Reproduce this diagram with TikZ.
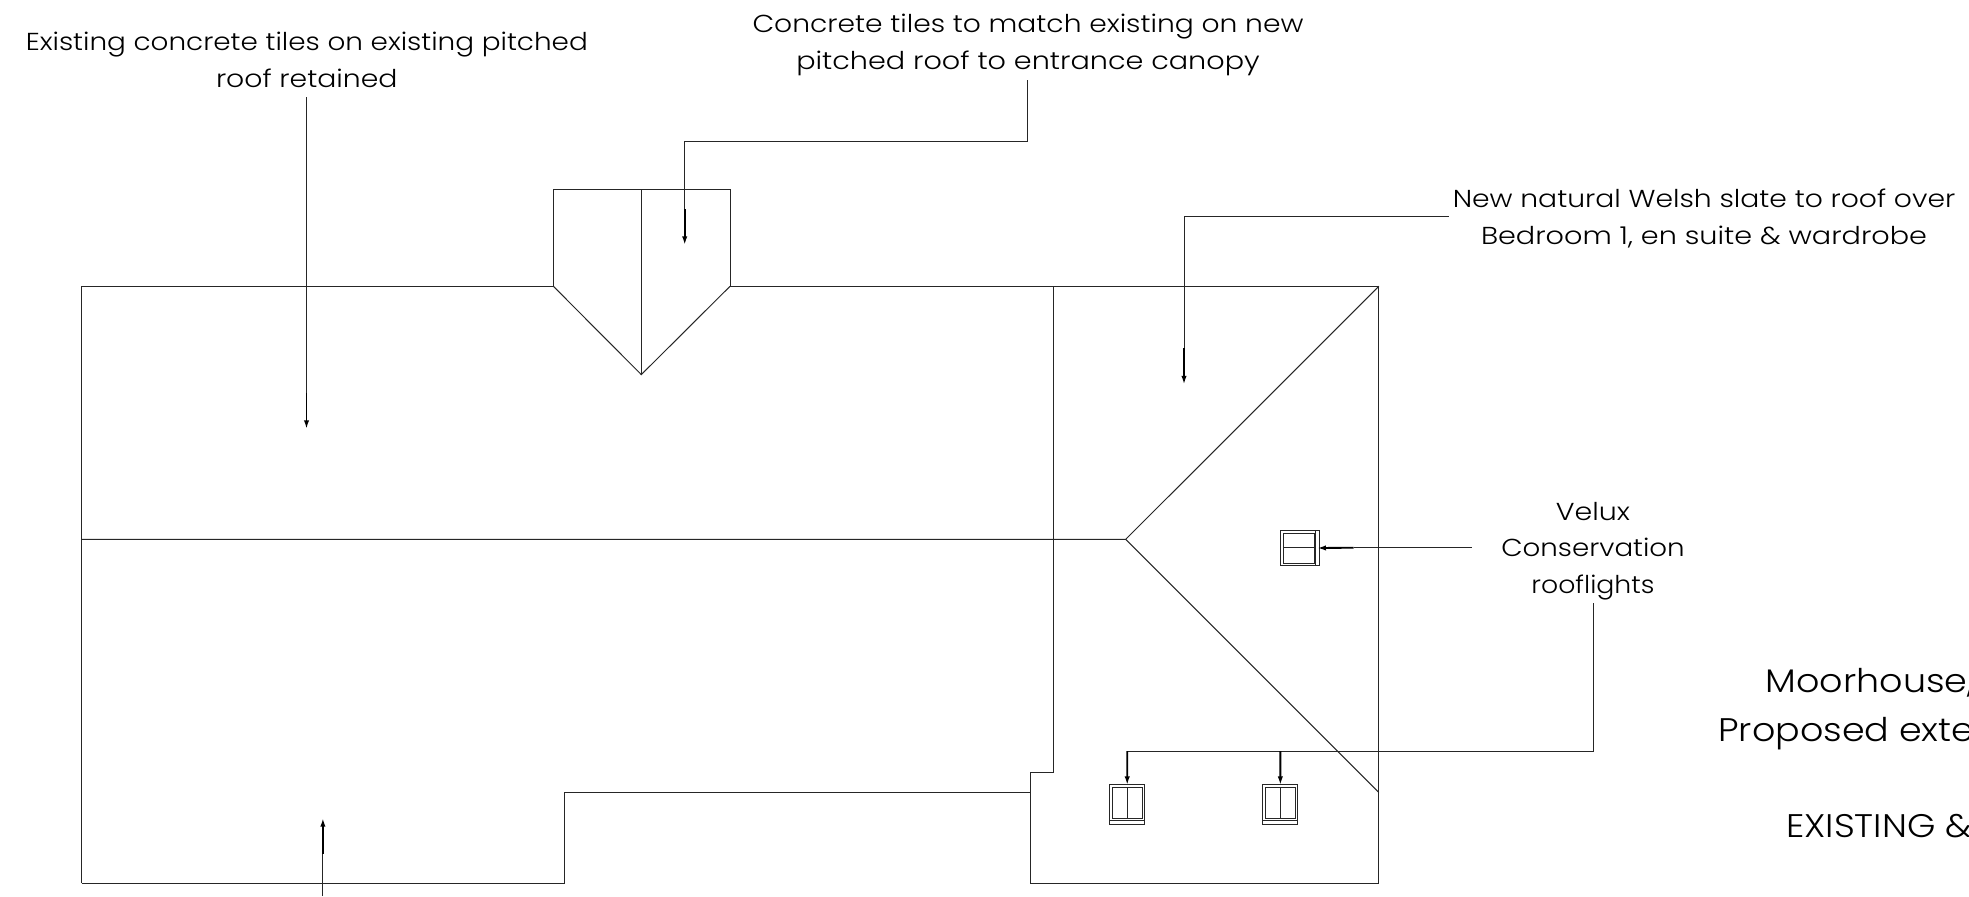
\documentclass[tikz,border=0pt]{standalone}
\usepackage{graphicx}
\usepackage{fontspec}
\setmainfont{Poppins Light}
\usetikzlibrary{arrows.meta}
\newcommand{\fitw}[2]{\resizebox{#1pt}{\height}{#2}}
\tikzset{
  x=0.75pt,y=-0.75pt,
  roofline/.style={line width=0.75pt,black!85,line join=miter},
  leader/.style={line width=0.7pt,black!85},
  heavy/.style={line width=1.4pt,black,-{Latex[length=6.5pt,width=4pt]}},
  note/.style={inner sep=0pt,align=center,anchor=base,font=\fontsize{18.4}{27.5}\selectfont},
  bignote/.style={inner sep=0pt,anchor=base west,font=\fontsize{24.5}{27}\selectfont},
  winframe/.style={draw,line width=0.75pt,black!85,inner sep=0pt,outer sep=0pt},
}
\begin{document}
\begin{tikzpicture}
\useasboundingbox (0,0) rectangle (1969,896);
% roof outline
\draw[roofline] (81.6,883) -- (81.6,286.3) -- (553.4,286.3) -- (553.4,189.3) -- (730,189.3) -- (730,286.3) -- (1378.8,286.3) -- (1378.8,883) -- (1030.2,883) -- (1030.2,772.6) -- (1053.5,772.6) -- (1053.5,286.3);
\draw[roofline] (81.6,883) -- (564,883) -- (564,792.5) -- (1030.2,792.5);
\draw[roofline] (81.6,539.3) -- (1125.7,539.3) -- (1378.8,286.3);
\draw[roofline] (1125.7,539.3) -- (1378.8,792.5);
\draw[roofline] (553.4,286.3) -- (641.3,374.6) -- (730,286.3);
\draw[roofline] (641.3,189.3) -- (641.3,374.6);
% rooflights
\node[winframe,minimum width=26.25pt,minimum height=29.7pt] (w1) at (1127.2,804.2) {};
\node[winframe,minimum width=26.25pt,minimum height=29.7pt] (w2) at (1280.35,804.2) {};
\node[winframe,minimum width=29.25pt,minimum height=26.5pt] (w3) at (1299.8,548) {};
\draw[roofline] (1112.3,787.7) rectangle (1142.7,818) (1127.3,787.7) -- (1127.3,818) (1109.7,820) -- (1144.7,820);
\draw[roofline] (1265.7,787.7) rectangle (1295.7,818) (1280.3,787.7) -- (1280.3,818) (1263,820) -- (1297.7,820);
\draw[roofline] (1283.3,533) rectangle (1314,563) (1283.3,547.6) -- (1314,547.6) (1315.5,530.3) -- (1315.5,565.6);
% labels
\node[note] (n1) at (306.8,87) {\fitw{421.5}{Existing concrete tiles on existing pitched}\\\fitw{136.2}{roof retained}};
\node[note] (n2) at (1028,69) {\fitw{413.25}{Concrete tiles to match existing on new}\\\fitw{347.6}{pitched roof to entrance canopy}};
\node[note] (n3) at (1704,244) {\fitw{376.9}{New natural Welsh slate to roof over}\\\fitw{334.5}{Bedroom 1, en suite \& wardrobe}};
\node[note] (n4) at (1593,593.5) {\fitw{55.6}{Velux}\\\fitw{137.6}{Conservation}\\\fitw{92.3}{rooflights}};
\node[bignote] (t1) at (1765.5,692.7) {\fitw{156}{Moorhouse,}};
\node[bignote] (t2) at (1718,741) {\fitw{192}{Proposed exte}};
\node[bignote] (t3) at (1786,837.7) {\fitw{139}{EXISTING \&}};
% connector points
\coordinate (a1) at (306.5,97.3); \coordinate (a1h) at (306.5,393); \coordinate (a1e) at (306.5,429);
\coordinate (a2) at (1027.7,80); \coordinate (a2b) at (1027.7,141.7); \coordinate (a2c) at (684.7,141.7); \coordinate (a2h) at (684.7,209); \coordinate (a2e) at (684.7,245);
\coordinate (a3) at (1448.6,216.7); \coordinate (a3b) at (1184,216.7); \coordinate (a3h) at (1184,348); \coordinate (a3e) at (1184,384.5);
\coordinate (a4) at (322.9,896); \coordinate (a4h) at (322.9,854); \coordinate (a4e) at (322.9,818);
\coordinate (a5) at (1471.8,547.7); \coordinate (a5h) at (1353.7,547.7);
\coordinate (a6) at (1593,603.3); \coordinate (a6b) at (1593,751); \coordinate (a6c) at (1127.3,751); \coordinate (a6d) at (1280.3,751);
% connectors
\draw[leader] (a1) -- (a1h);
\draw[heavy] (a1h) -- (a1e);
\draw[leader] (a2) -- (a2b) -- (a2c) -- (a2h);
\draw[heavy] (a2h) -- (a2e);
\draw[leader] (a3) -- (a3b) -- (a3h);
\draw[heavy] (a3h) -- (a3e);
\draw[leader] (a4) -- (a4h);
\draw[heavy] (a4h) -- (a4e);
\draw[leader] (a5) -- (a5h);
\draw[heavy,shorten >=-1.5pt] (a5h) -- (w3.east);
\draw[leader] (a6) -- (a6b) -- (a6c);
\draw[heavy,shorten >=-0.5pt] (a6c) -- (w1.north);
\draw[heavy,shorten >=-0.5pt] (a6d) -- (w2.north);
\end{tikzpicture}
\end{document}
